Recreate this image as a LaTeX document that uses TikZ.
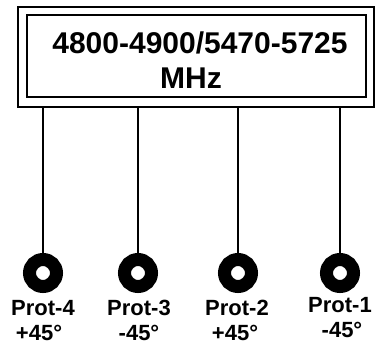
\documentclass[tikz,border=0pt]{standalone}
\usepackage{fontspec}
\setmainfont{Liberation Sans}
\usetikzlibrary{calc}

\begin{document}
\begin{tikzpicture}[x=1pt,y=-1pt,
    box/.style={draw,line width=1.6pt,inner sep=0pt},
    port node/.style={circle,draw,line width=13pt,minimum size=27pt,inner sep=0pt},
    big text/.style={font=\bfseries\fontsize{30}{36}\selectfont,inner sep=0pt},
    small text/.style={font=\bfseries\fontsize{22}{26}\selectfont,inner sep=0pt} ]
    \useasboundingbox (0,0) rectangle (377,345);
    \node at (196,57) [box,minimum width=356pt,minimum height=100pt] (outer) {};
    \node at (196.5,56) [box,line width=1.3pt,minimum width=339pt,minimum height=82pt] (inner) {};
    \node at (200,43) [big text] (band) {4800-4900/5470-5725};
    \node at (191,78) [big text] (unit) {MHz};
    % ports
    \node at (43,273) [port node] (P4) {};
    \node at (138,273) [port node] (P3) {};
    \node at (238,273) [port node] (P2) {};
    \node at (340,273) [port node] (P1) {};
    \draw [line width=1.3pt] (P4 |- outer.south) to (P4);
    \draw [line width=1.3pt] (P3 |- outer.south) to (P3);
    \draw [line width=1.3pt] (P2 |- outer.south) to (P2);
    \draw [line width=1.3pt] (P1 |- outer.south) to (P1);
    \node at (43,308) [small text] (n4) {Prot-4};
    \node at (39,333) [small text] (m4) {+45°};
    \node at (139,308) [small text] (n3) {Prot-3};
    \node at (139,333) [small text] (m3) {-45°};
    \node at (237,308) [small text] (n2) {Prot-2};
    \node at (235,333) [small text] (m2) {+45°};
    \node at (340,305) [small text] (n1) {Prot-1};
    \node at (342,330) [small text] (m1) {-45°};
\end{tikzpicture}
\end{document}
